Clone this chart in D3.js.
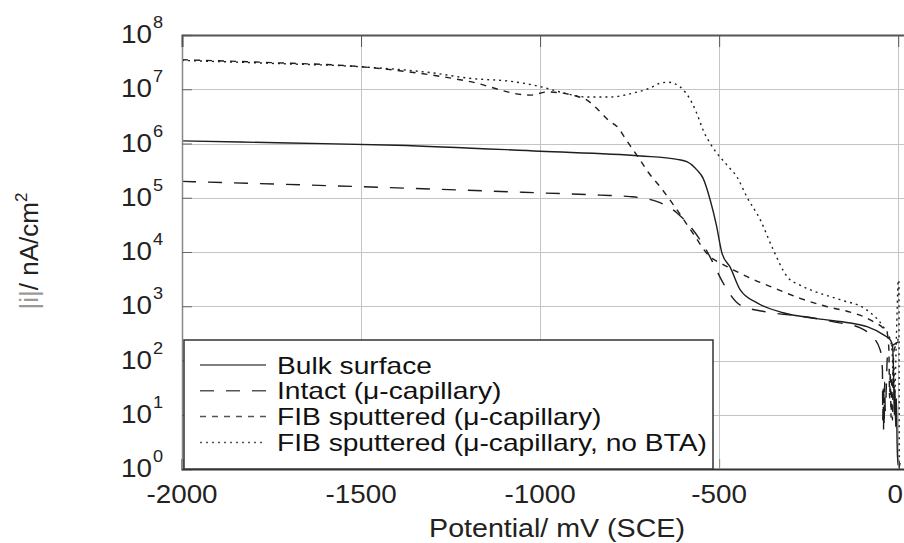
<!DOCTYPE html>
<html><head><meta charset="utf-8">
<script src="https://cdn.jsdelivr.net/npm/d3@7"></script>
<style>
html,body{margin:0;padding:0;background:#fff;}
svg{display:block;font-family:"Liberation Sans",Arial,sans-serif;}
</style></head>
<body>
<svg id="chart" width="904" height="543"></svg>
<script>
// ---------- data (potential in mV vs SCE, current density |i| in nA/cm²) ----------
const xTicks = [-2000, -1500, -1000, -500, 0];
const yTickExponents = [0, 1, 2, 3, 4, 5, 6, 7, 8];
const seriesNames = ["Bulk surface", "Intact (\u03bc-capillary)", "FIB sputtered (\u03bc-capillary)", "FIB sputtered (\u03bc-capillary, no BTA)"];

const bulkE = [-2000,-1700,-1400,-1000,-720,-617,-589,-561,-545,-525,-508,-492,-469,-441,-394,-321,-226,-134,-87,-42,-22,-16,-13,-11,-9,-7,-5,-3,-1,1,3,5];
const bulkI = [1.12e6,1.02e6,9.3e5,7.2e5,5.9e5,5.1e5,4.6e5,3.2e5,2.3e5,9.1e4,3.2e4,9.5e3,5.2e3,2.0e3,1.15e3,7.6e2,5.9e2,4.9e2,4.2e2,3.0e2,2.4e2,1.9e2,6e1,1e1,3e1,6,2e1,3,1.2,1.5,1.1,1.3];

const intactE = [-2000,-1500,-1000,-832,-749,-673,-617,-553,-531,-517,-489,-441,-366,-274,-176,-106,-78,-50,-44,-43,-42,-41,-40,-39,-38,-36,-30,-20,-10,0];
const intactI = [2.0e5,1.6e5,1.23e5,1.12e5,1.05e5,8.5e4,5.2e4,1.66e4,9.5e3,6.3e3,2.7e3,1.05e3,7.8e2,6.6e2,5.1e2,4.0e2,3.0e2,1.55e2,6.6e1,8,3e1,5,2.5e1,6,4e1,1.2e1,1.2e2,1.8e2,2.0e2,2.2e2];

const fibE = [-2000,-1750,-1500,-1200,-1028,-980,-900,-869,-838,-810,-782,-763,-740,-721,-698,-665,-617,-573,-525,-497,-461,-413,-349,-274,-198,-134,-78,-31,-26,-24,-22,-20,-18,-16,-14,-12,-5,0];
const fibI = [3.5e7,3.1e7,2.6e7,1.4e7,7.8e6,8.9e6,7.5e6,6.3e6,4.2e6,2.7e6,1.95e6,1.26e6,7.6e5,5.0e5,2.95e5,1.6e5,5.9e4,2.2e4,8.1e3,6.3e3,4.7e3,3.3e3,2.2e3,1.4e3,9.8e2,7.8e2,5.6e2,3.2e2,1.6e2,2e1,6e1,9,5e1,8,6e1,1.5e2,2.0e2,2.5e2];

const nobtaE = [-2000,-1750,-1503,-1300,-1200,-1075,-1000,-944,-869,-804,-740,-693,-665,-642,-623,-595,-575,-561,-545,-517,-478,-450,-422,-385,-349,-310,-274,-226,-162,-87,-42,-22,-16,-14,-12,-10,-6,-3,0,2,3];
const nobtaI = [3.4e7,3.0e7,2.6e7,2.0e7,1.6e7,1.38e7,1.12e7,8.9e6,7.2e6,7.2e6,8.5e6,1.05e7,1.29e7,1.35e7,1.26e7,8.9e6,5.5e6,3.4e6,1.78e6,8.3e5,4.0e5,2.4e5,1.02e5,3.9e4,1.1e4,3.5e3,2.45e3,1.8e3,1.32e3,8.5e2,4.2e2,2.4e2,1.2e2,3e1,8e1,2e1,1.5e2,8e2,3e3,3e3,1];

// ---------- layout ----------
const W = 904;
const svg = d3.select("#chart");
const L = 182, T = 35, B = 469;
const x = d3.scaleLinear().domain([-2000, 100]).range([L, L + 752]);
const y = d3.scaleLog().domain([1, 1e8]).range([B, T]);
const R = x(100);
const SX = 1.07; // slight horizontal stretch of the lettering in the reference

function addText(parent, tx, ty, str, size, anchor, sx, fill) {
  return parent.append("text")
    .attr("transform", `translate(${tx},${ty}) scale(${sx},1)`)
    .attr("text-anchor", anchor).attr("font-size", size)
    .attr("fill", fill).text(str);
}

svg.append("defs").append("clipPath").attr("id", "clip")
  .append("rect").attr("x", L).attr("y", T).attr("width", R - L).attr("height", B - T);

// gridlines
const grid = svg.append("g");
grid.selectAll("line.gy").data(yTickExponents.slice(1, -1)).join("line")
  .attr("x1", L).attr("x2", R)
  .attr("y1", d => Math.round(y(Math.pow(10, d))) + 0.5)
  .attr("y2", d => Math.round(y(Math.pow(10, d))) + 0.5)
  .attr("stroke", "#c4c4c4").attr("stroke-width", 1);
grid.selectAll("line.gx").data(xTicks.slice(1)).join("line")
  .attr("y1", T).attr("y2", B)
  .attr("x1", d => Math.round(x(d)) + 0.5).attr("x2", d => Math.round(x(d)) + 0.5)
  .attr("stroke", "#c4c4c4").attr("stroke-width", 1);

// curves
const line = d3.line().curve(d3.curveMonotoneX).x(d => x(d[0])).y(d => y(d[1]));
const series = [
  {E: bulkE, I: bulkI, dash: null},
  {E: intactE, I: intactI, dash: "14,12"},
  {E: fibE, I: fibI, dash: "6,6"},
  {E: nobtaE, I: nobtaI, dash: "2,4"}
];
const curves = svg.append("g").attr("clip-path", "url(#clip)");
series.forEach(s => {
  curves.append("path")
    .attr("d", line(d3.zip(s.E, s.I)))
    .attr("fill", "none")
    .attr("stroke", "#1e1e1e")
    .attr("stroke-width", 1.4)
    .attr("stroke-dasharray", s.dash);
});

// axes frame
const axisY = d3.axisLeft(y).tickValues(yTickExponents.map(e => Math.pow(10, e)))
  .tickSize(-10).tickFormat("");
svg.append("g").attr("transform", `translate(${L},0)`).call(axisY)
  .call(g => g.select(".domain").attr("stroke", "#888").attr("stroke-width", 1.5))
  .call(g => g.selectAll(".tick line").attr("stroke", "#666"));

const axisXB = d3.axisBottom(x).tickValues(xTicks).tickSize(-10).tickFormat("");
svg.append("g").attr("transform", `translate(0,${B})`).call(axisXB)
  .call(g => g.select(".domain").attr("stroke", "#333").attr("stroke-width", 2))
  .call(g => g.selectAll(".tick line").attr("stroke", "#888"));
const axisXT = d3.axisTop(x).tickValues(xTicks).tickSize(-12).tickFormat("");
svg.append("g").attr("transform", `translate(0,${T})`).call(axisXT)
  .call(g => g.select(".domain").attr("stroke", "#555").attr("stroke-width", 2))
  .call(g => g.selectAll(".tick line").attr("stroke", "#555"));

// y tick labels with superscripts
const ylab = svg.append("g");
yTickExponents.forEach(e => {
  const yy = y(Math.pow(10, e));
  addText(ylab, 152, yy + 8, "10", 26, "end", SX, "#222");
  addText(ylab, 153, yy - 7, String(e), 17, "start", SX, "#222");
});

// x tick labels (kept inside the window)
const xlab = svg.append("g");
xTicks.forEach(v => {
  const t = addText(xlab, x(v), 503, String(v), 26, "middle", SX, "#222");
  const w = t.node().getBBox().width * SX;
  if (x(v) + w / 2 > W - 1) {
    t.attr("transform", `translate(${W - 1},503) scale(${SX},1)`).attr("text-anchor", "end");
  }
});

// axis titles
addText(svg, 557, 537, "Potential/ mV (SCE)", 26, "middle", 1.1, "#222");
const yt = svg.append("text").attr("transform", "translate(38,251) rotate(-90)")
  .attr("text-anchor", "middle").attr("font-size", 26).attr("fill", "#222");
yt.append("tspan").attr("fill", "#999").text("|i|");
yt.append("tspan").text("/ nA/cm");
yt.append("tspan").attr("font-size", 17).attr("dy", -11).text("2");

// legend
const lg = svg.append("g");
lg.append("rect").attr("x", 184).attr("y", 340).attr("width", 529).attr("height", B - 340)
  .attr("fill", "#fff").attr("stroke", "#333").attr("stroke-width", 1.5);
seriesNames.forEach((name, i) => {
  const ly = 365 + i * 25.8;
  lg.append("line").attr("x1", 200).attr("x2", 266).attr("y1", ly).attr("y2", ly)
    .attr("stroke", "#555").attr("stroke-width", 1.5)
    .attr("stroke-dasharray", series[i].dash);
  addText(lg, 277, ly + 8.5, name, 23, "start", 1.225, "#111");
});
</script>
</body></html>
